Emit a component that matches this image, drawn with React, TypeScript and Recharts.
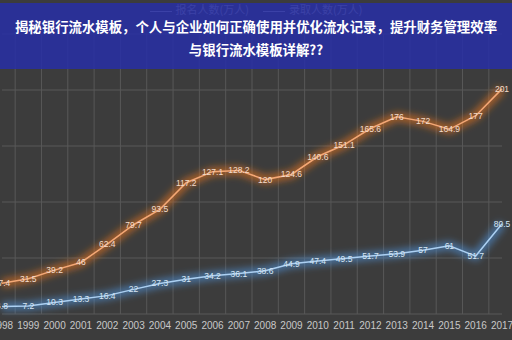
import React from "react";
import { LineChart, Line, XAxis, YAxis, CartesianGrid, LabelList } from "recharts";

const years = ["1998","1999","2000","2001","2002","2003","2004","2005","2006","2007","2008","2009","2010","2011","2012","2013","2014","2015","2016","2017"];
const applicants = [27.4,31.5,39.2,46,62.4,79.7,93.5,117.2,127.1,128.2,120,124.6,140.6,151.1,165.6,176,172,164.9,177,201];
const admitted = [6.8,7.2,10.3,13.3,16.4,22,27.3,31,34.2,36.1,38.6,44.9,47.4,49.5,51.7,53.9,57,61,51.7,80.5];
const yTicks = [0,50,100,150,200,250];
const seriesNames = ["报名人数(万人)", "录取人数(万人)"];
const titleLine1 = "揭秘银行流水模板，个人与企业如何正确使用并优化流水记录，提升财务管理效率";
const titleLine2 = "与银行流水模板详解??";

const data = years.map((y, i) => ({ year: y, a: applicants[i], b: admitted[i] }));

const ORANGE = "#e8741f";
const BLUE = "#4f93d8";

const makeLabel = (color: string) => (props: any) => {
  const { x, y, value } = props;
  return (
    <text x={x} y={y + 3} textAnchor="middle" fontSize={8.5} fill={color} fontFamily="Liberation Sans, Arial, sans-serif">
      {value}
    </text>
  );
};

export default function App() {
  return (
    <div style={{ position: "absolute", left: 0, top: 0, width: 512, height: 340, background: "#3c3c3c", overflow: "hidden" }}>
      <LineChart width={512} height={340} data={data} margin={{ top: 34, right: 10, bottom: 0, left: 2 }}>
        <defs>
          <filter id="glow" x="-20%" y="-50%" width="140%" height="200%">
            <feGaussianBlur stdDeviation="3.5" />
          </filter>
        </defs>
        <CartesianGrid
          stroke="#585858"
          strokeWidth={1}
          verticalCoordinatesGenerator={({ offset }: any) =>
            years.map((_, i) => offset.left + ((i + 0.5) * offset.width) / (years.length - 1))
          }
        />
        <XAxis
          dataKey="year"
          height={26}
          tickSize={0}
          tickMargin={8}
          axisLine={false}
          tickLine={false}
          interval={0}
          tick={{ fill: "#c8c8c8", fontSize: 10, fontFamily: "Liberation Sans, Arial, sans-serif" }}
        />
        <YAxis hide domain={[0, 250]} ticks={yTicks} />
        <Line dataKey="a" stroke={ORANGE} strokeWidth={9} strokeOpacity={0.6} filter="url(#glow)" dot={false} isAnimationActive={false} legendType="none" />
        <Line dataKey="b" stroke={BLUE} strokeWidth={9} strokeOpacity={0.6} filter="url(#glow)" dot={false} isAnimationActive={false} legendType="none" />
        <Line dataKey="a" stroke="#f4a875" strokeWidth={1.5} dot={false} isAnimationActive={false} legendType="none">
          <LabelList dataKey="a" content={makeLabel("#f3dccb")} />
        </Line>
        <Line dataKey="b" stroke="#acd0f2" strokeWidth={1.5} dot={false} isAnimationActive={false} legendType="none">
          <LabelList dataKey="b" content={makeLabel("#d6e6f5")} />
        </Line>
      </LineChart>
      <div
        style={{
          position: "absolute",
          left: 0,
          top: 1,
          width: 512,
          textAlign: "center",
          fontFamily: "'Noto Sans CJK SC', sans-serif",
          fontSize: 11,
          color: "#b0b0b0",
          lineHeight: "16px",
        }}
      >
        {seriesNames.map((n, i) => (
          <span key={n} style={{ marginLeft: i === 0 ? 0 : 14 }}>
            <span style={{ display: "inline-block", width: 22, borderTop: "1px solid #b0b0b0", verticalAlign: "middle", marginRight: 4 }} />
            {n}
          </span>
        ))}
      </div>
      <div
        style={{
          position: "absolute",
          left: 0,
          top: 3,
          width: 512,
          height: 66,
          background: "rgba(40,46,165,0.86)",
          color: "#ffffff",
          fontFamily: "'Noto Sans CJK SC', sans-serif",
          fontWeight: 700,
          fontSize: 13.4,
          textAlign: "center",
          lineHeight: "23px",
          paddingTop: 12,
          boxSizing: "border-box",
        }}
      >
        <div>{titleLine1}</div>
        <div>{titleLine2}</div>
      </div>
    </div>
  );
}
